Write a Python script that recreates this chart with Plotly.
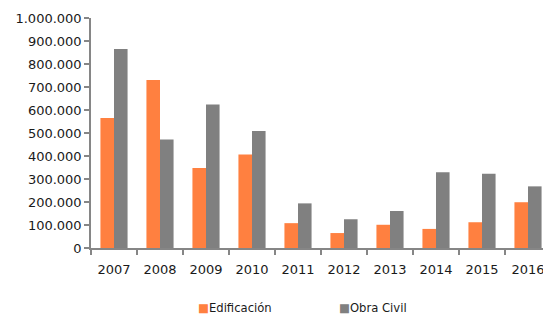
import plotly.graph_objects as go

years = ["2007", "2008", "2009", "2010", "2011", "2012", "2013", "2014", "2015", "2016"]
edificacion = [565000, 730000, 348000, 407000, 108000, 65000, 101000, 83000, 112000, 199000]
obra_civil = [865000, 472000, 624000, 509000, 194000, 125000, 161000, 329000, 323000, 268000]
series_names = ["Edificación", "Obra Civil"]
y_tickvals = [0, 100000, 200000, 300000, 400000, 500000, 600000, 700000, 800000, 900000, 1000000]

ORANGE = "#FF8040"
GRAY = "#808080"
AXIS = "#868686"
TEXT = "#1a1a1a"
FONT = "DejaVu Sans"
colors = [ORANGE, GRAY]

fig = go.Figure()
fig.add_trace(go.Bar(x=years, y=edificacion, name=series_names[0], showlegend=False,
                     marker=dict(color=colors[0], line=dict(width=0))))
fig.add_trace(go.Bar(x=years, y=obra_civil, name=series_names[1], showlegend=False,
                     marker=dict(color=colors[1], line=dict(width=0))))

# Compact legend (small square + label), as in the original
legend_x_px = [196, 337]
for name, col, px in zip(series_names, colors, legend_x_px):
    fig.add_annotation(
        xref="paper", yref="paper", x=(px - 91) / 452, y=-(307.5 - 248) / 230,
        xanchor="left", yanchor="middle", showarrow=False,
        text=f"<span style='color:{col}'>■</span>{name}",
        font=dict(family=FONT, size=11.6, color=TEXT),
    )

fig.update_layout(
    width=543, height=315,
    margin=dict(l=91, r=0, t=18, b=67, autoexpand=False),
    paper_bgcolor="white", plot_bgcolor="white",
    barmode="group", bargap=0.41, bargroupgap=0,
    separators=",.",
    font=dict(family=FONT, size=13, color=TEXT),
    showlegend=False,
    xaxis=dict(type="category", range=[-0.5, 9.326], showgrid=False, zeroline=False,
               showline=True, linecolor=AXIS, linewidth=1.5,
               ticks="outside", tickson="boundaries", ticklen=5, tickcolor=AXIS, tickwidth=1.5,
               ticklabelstandoff=9, automargin=False,
               tickfont=dict(family=FONT, size=13, color=TEXT)),
    yaxis=dict(range=[0, 1000000], tickvals=y_tickvals, tickformat=",", showgrid=False,
               zeroline=False, showline=True, linecolor=AXIS, linewidth=1.5,
               ticks="outside", ticklen=5, tickcolor=AXIS, tickwidth=1.5, automargin=False,
               tickfont=dict(family=FONT, size=13, color=TEXT)),
)

fig.write_html("out.html", config={"displayModeBar": False},
               post_script="document.body.style.margin='0';document.body.style.overflow='hidden';")
